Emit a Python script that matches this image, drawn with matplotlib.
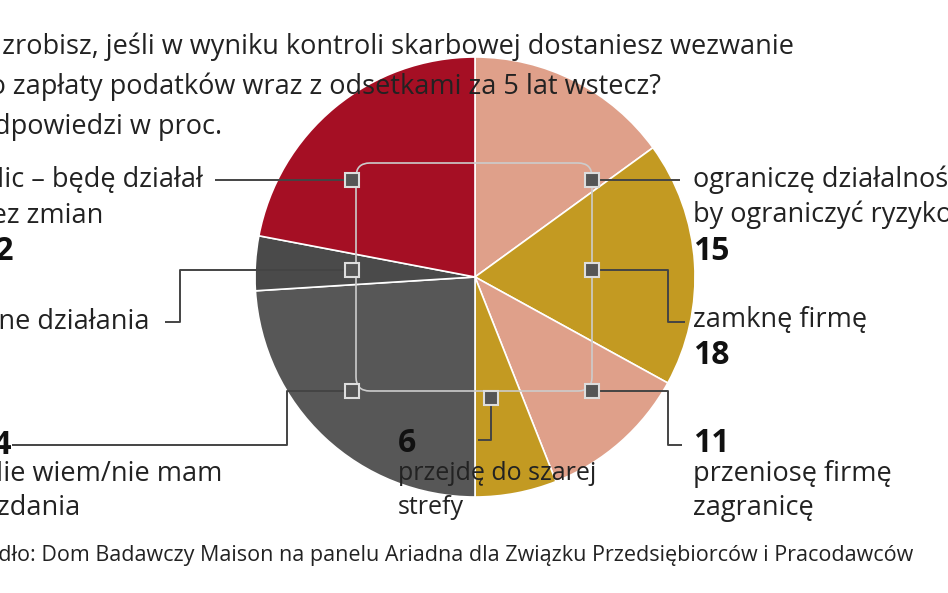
import matplotlib
matplotlib.use("Agg")
import matplotlib.pyplot as plt
from matplotlib.patches import FancyBboxPatch, Rectangle

labels = ["ograniczę działalność", "zamknę firmę", "przeniosę firmę", "przejdę do szarej strefy",
          "nie wiem/nie mam zdania", "inne działania", "nic – będę działał bez zmian"]
values = [15, 18, 11, 6, 24, 4, 22]
colors = ["#dfa08a", "#c39a22", "#dfa08a", "#c39a22", "#575757", "#4a4a4a", "#a50f24"]

FONT = "Open Sans"
fig = plt.figure(figsize=(9.48, 5.93), dpi=100)
ax = fig.add_axes([0, 0, 1, 1])

cx, cy = 475, 277
# y axis is inverted below, so counterclock=True with startangle=-90 reads clockwise from 12 o'clock
wedges, _ = ax.pie(values, colors=colors, startangle=-90, counterclock=True, center=(cx, cy),
                   radius=220, wedgeprops=dict(edgecolor="white", linewidth=1.2), frame=True)
ax.set_xlim(0, 948); ax.set_ylim(593, 0); ax.axis("off"); ax.set_aspect("equal")

clip = FancyBboxPatch((356, 163), 236, 228, boxstyle="round,pad=0,rounding_size=14",
                      facecolor="none", edgecolor="#cccccc", linewidth=1.2, zorder=3)
ax.add_patch(clip)
for w in wedges:
    w.set_clip_path(clip.get_path(), clip.get_transform())

lc = "#444444"
def line(xs, ys):
    ax.plot(xs, ys, color=lc, lw=1.4, zorder=2, solid_capstyle="butt")
line([352, 215], [180, 180])
line([352, 180, 180, 165], [270, 270, 322, 322])
line([352, 287, 287, 12], [391, 391, 445, 445])
line([592, 680], [180, 180])
line([592, 668, 668, 685], [270, 270, 322, 322])
line([592, 668, 668, 682], [391, 391, 445, 445])
line([491, 491, 478], [398, 440, 440])

for (hx, hy) in [(352, 180), (352, 270), (352, 391), (592, 180), (592, 270), (592, 391), (491, 398)]:
    ax.add_patch(Rectangle((hx - 7, hy - 7), 14, 14, facecolor="#555555", edgecolor="#dddddd",
                           linewidth=1.5, zorder=5))

fs = 19.5
nfs = 23
def t(x, y, s, bold=False, size=fs, ha="left"):
    ax.text(x, y, s, fontsize=size, fontfamily=FONT, fontweight="bold" if bold else "normal",
            va="center", ha=ha, color="#222222" if not bold else "#111111", zorder=6)

t(-38, 47, "Co zrobisz, jeśli w wyniku kontroli skarbowej dostaniesz wezwanie", size=19.5)
t(-27, 87, "do zapłaty podatków wraz z odsetkami za 5 lat wstecz?", size=19.5)
t(-27, 127, "Odpowiedzi w proc.", size=19.5)

t(203, 180, "Nic – będę działał", ha="right")
t(103, 216, "bez zmian", ha="right")
t(14, 252, "22", bold=True, size=nfs, ha="right")
t(150, 322, "Inne działania", ha="right")
t(12, 445, "24", bold=True, size=nfs, ha="right")
t(222, 474, "Nie wiem/nie mam", ha="right")
t(80, 508, "zdania", ha="right")

t(693, 180, "ograniczę działalność,")
t(693, 215, "by ograniczyć ryzyko")
t(693, 251, "15", bold=True, size=nfs)
t(693, 320, "zamknę firmę")
t(693, 355, "18", bold=True, size=nfs)
t(693, 443, "11", bold=True, size=nfs)
t(693, 474, "przeniosę firmę")
t(693, 508, "zagranicę")
t(398, 443, "6", bold=True, size=nfs)
t(398, 474, "przejdę do szarej", size=18)
t(398, 508, "strefy", size=18)

t(-36, 553, "Źródło: Dom Badawczy Maison na panelu Ariadna dla Związku Przedsiębiorców i Pracodawców",
  size=15.5)

fig.savefig("out.png", dpi=100, facecolor="white")
